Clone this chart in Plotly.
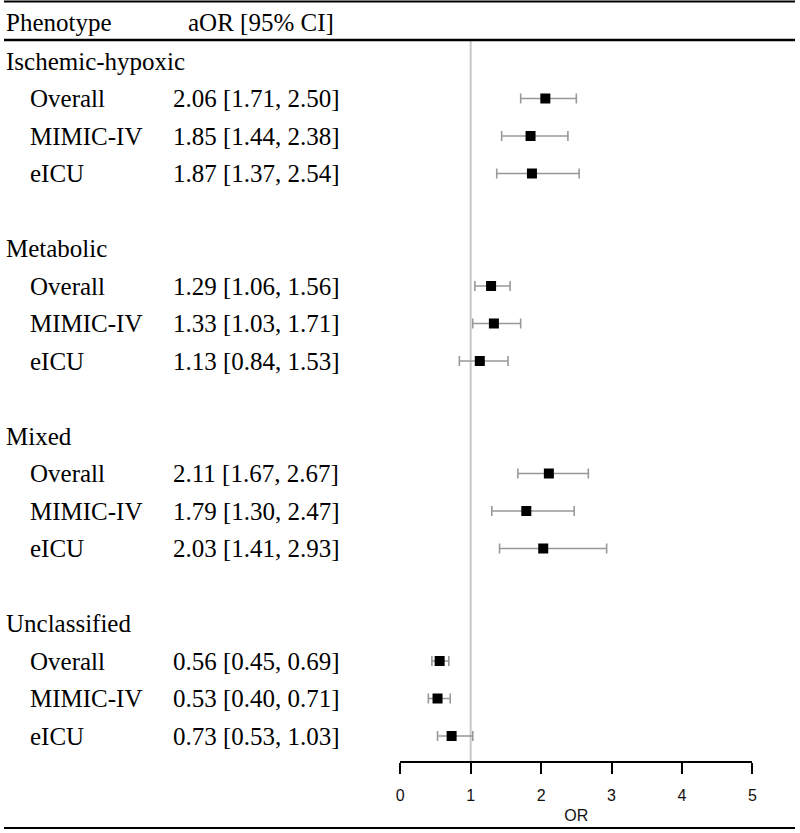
import plotly.graph_objects as go

groups = ["Ischemic-hypoxic", "Metabolic", "Mixed", "Unclassified"]
cohorts = ["Overall", "MIMIC-IV", "eICU"]
aor = [[2.06, 1.85, 1.87], [1.29, 1.33, 1.13], [2.11, 1.79, 2.03], [0.56, 0.53, 0.73]]
lo = [[1.71, 1.44, 1.37], [1.06, 1.03, 0.84], [1.67, 1.30, 1.41], [0.45, 0.40, 0.53]]
hi = [[2.50, 2.38, 2.54], [1.56, 1.71, 1.53], [2.67, 2.47, 2.93], [0.69, 0.71, 1.03]]
xticks = [0, 1, 2, 3, 4, 5]

W, H = 800, 833
row0_px, row_h = 61, 37.5

def yp(px):
    return 1 - px / H

def xp(px):
    return px / W

fig = go.Figure()
annotations = []
xs, ys, em, emm = [], [], [], []
serif = dict(family="Liberation Serif, Times New Roman, serif", size=25, color="black")
PAD = 7  # annotation inner padding

def txt(x, y, text, yref="y"):
    annotations.append(dict(x=xp(x - PAD), y=y, xref="paper", yref=yref, text=text,
                            showarrow=False, xanchor="left", yanchor="middle", font=serif))

row = 0
for g, name in enumerate(groups):
    txt(7, row, name)
    row += 1
    for c, coh in enumerate(cohorts):
        txt(31, row, coh)
        txt(176, row, f"{aor[g][c]:.2f} [{lo[g][c]:.2f}, {hi[g][c]:.2f}]")
        xs.append(aor[g][c]); ys.append(row)
        em.append(aor[g][c] - lo[g][c]); emm.append(hi[g][c] - aor[g][c])
        row += 1
    row += 1

txt(7, yp(22), "Phenotype", yref="paper")
txt(191, yp(22), "aOR [95% CI]", yref="paper")

fig.add_trace(go.Scatter(
    x=xs, y=ys, mode="markers",
    marker=dict(symbol="square", size=10, color="black"),
    error_x=dict(type="data", symmetric=False, array=emm, arrayminus=em,
                 color="#999999", thickness=1.6, width=5),
    showlegend=False, hoverinfo="skip"))

shapes = [
    dict(type="line", xref="x", yref="paper", x0=1, x1=1, y0=yp(41), y1=yp(762),
         line=dict(color="#c8c8c8", width=2), layer="below"),
    dict(type="line", xref="paper", yref="paper", x0=0, x1=1, y0=yp(1.5), y1=yp(1.5),
         line=dict(color="black", width=2)),
    dict(type="line", xref="paper", yref="paper", x0=0, x1=1, y0=yp(40), y1=yp(40),
         line=dict(color="black", width=2.5)),
    dict(type="line", xref="paper", yref="paper", x0=0, x1=1, y0=yp(828), y1=yp(828),
         line=dict(color="black", width=2)),
]

y_top = -row0_px / row_h
y_bot = (H - row0_px) / row_h

sans = dict(family="Liberation Sans, Arial, sans-serif", size=16, color="#111")
fig.update_layout(
    width=W, height=H, margin=dict(l=0, r=0, t=0, b=0),
    paper_bgcolor="white", plot_bgcolor="white",
    annotations=annotations, shapes=shapes,
    xaxis=dict(domain=[xp(400.7), xp(757)], range=[0, 5], tickvals=xticks,
               showgrid=False, zeroline=False, showline=True, linecolor="black", linewidth=2,
               ticks="outside", ticklen=11, tickwidth=2, tickcolor="black",
               anchor="free", position=yp(762), ticklabelstandoff=8,
               tickfont=sans,
               title=dict(text="OR", standoff=6, font=sans)),
    yaxis=dict(domain=[0, 1], range=[y_bot, y_top], visible=False, showgrid=False, zeroline=False),
)

fig.write_html("out.html", config={"displayModeBar": False},
               post_script="document.body.style.margin='0px';")
